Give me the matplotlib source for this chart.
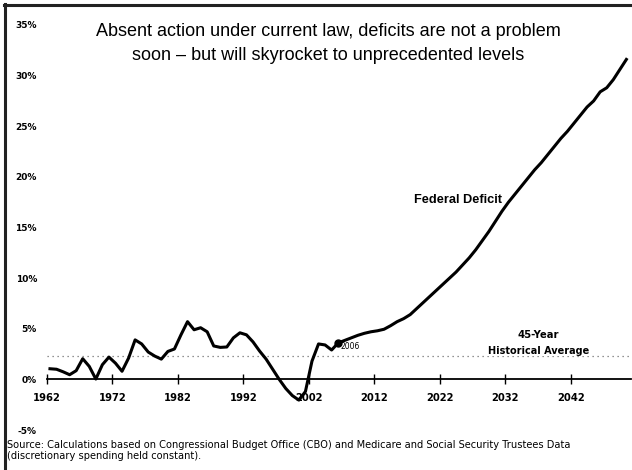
import matplotlib
matplotlib.use("Agg")
import matplotlib.pyplot as plt
from matplotlib.lines import Line2D
import numpy as np

# ---------------- data ----------------
years = list(range(1962, 2051))
deficit = [
    1.05, 1.0, 0.75, 0.46, 0.86, 2.04, 1.28, 0.03, 1.45, 2.2,      # 1962-1971
    1.6, 0.8, 2.1, 3.9, 3.5, 2.7, 2.3, 2.0, 2.76, 3.0,             # 1972-1981
    4.4, 5.7, 4.9, 5.1, 4.7, 3.3, 3.16, 3.2, 4.1, 4.6,             # 1982-1991
    4.4, 3.7, 2.8, 2.0, 1.0, 0.0, -0.9, -1.6, -2.05, -1.2,         # 1992-2001
    1.8, 3.5, 3.4, 2.9, 3.6, 3.85, 4.1, 4.35, 4.55, 4.7,           # 2002-2011
    4.8, 4.95, 5.3, 5.7, 6.0, 6.4, 7.0, 7.6, 8.2, 8.8,             # 2012-2021
    9.4, 10.0, 10.6, 11.3, 12.0, 12.8, 13.7, 14.6, 15.6, 16.6,     # 2022-2031
    17.5, 18.3, 19.1, 19.9, 20.7, 21.4, 22.2, 23.0, 23.8, 24.5,    # 2032-2041
    25.3, 26.1, 26.9, 27.5, 28.4, 28.8, 29.6, 30.6, 31.6,          # 2042-2050
]
historical_average = 2.3
marker_year = 2006
x_tick_years = [1962, 1972, 1982, 1992, 2002, 2012, 2022, 2032, 2042]
y_ticks = [-5, 0, 5, 10, 15, 20, 25, 30, 35]
y_tick_labels = ["-5%", "0%", "5%", "10%", "15%", "20%", "25%", "30%", "35%"]

title_lines = ["Absent action under current law, deficits are not a problem",
               "soon \u2013 but will skyrocket to unprecedented levels"]
series_label = "Federal Deficit"
avg_label = ["45-Year", "Historical Average"]
source_lines = ["Source: Calculations based on Congressional Budget Office (CBO) and Medicare and Social Security Trustees Data",
                "(discretionary spending held constant)."]

# ---------------- figure ----------------
W, H = 632, 470
fig = plt.figure(figsize=(W / 100, H / 100), dpi=100)
fig.patch.set_facecolor("white")

def fx(x):
    return x / W

def fy(y):
    return 1 - y / H

ax_left, ax_right, ax_top, ax_bottom = 46.7, 631, 25, 430
ax = fig.add_axes([fx(ax_left), fy(ax_bottom), (ax_right - ax_left) / W, (ax_bottom - ax_top) / H])
ax.set_facecolor("none")
ax.set_xlim(1962, 1962 + (ax_right - ax_left) / 6.55)
ax.set_ylim(-5, 35)

xs = np.array(years) + 0.5  # data drawn at the middle of each year
ax.plot(xs, deficit, color="black", lw=2.2, solid_joinstyle="round", zorder=4)
mi = years.index(marker_year)
ax.plot([xs[mi]], [deficit[mi]], "o", color="black", ms=5, zorder=5)
ax.text(xs[mi] + 0.4, deficit[mi] - 0.35, str(marker_year), fontsize=5.5,
        family="DejaVu Sans", va="center", ha="left", zorder=6)

ax.axhline(historical_average, color="#707070", lw=0.9, ls=(0, (1, 3)), zorder=2)

for s in ["top", "right", "left"]:
    ax.spines[s].set_visible(False)
ax.spines["bottom"].set_position(("data", 0))
ax.spines["bottom"].set_linewidth(1.3)
ax.spines["bottom"].set_zorder(3)

ax.set_xticks(x_tick_years)
ax.set_xticklabels([str(y) for y in x_tick_years], fontsize=7.2, fontweight="bold",
                   family="DejaVu Sans")
ax.tick_params(axis="x", direction="inout", length=7, width=1, pad=6)
ax.set_yticks(y_ticks)
ax.set_yticklabels(y_tick_labels, fontsize=6.5, fontweight="bold", family="DejaVu Sans")
ax.tick_params(axis="y", length=0, pad=7)

# annotations
fig.text(fx(458.5), fy(200), series_label, fontsize=9.2, fontweight="bold",
         family="Liberation Sans", ha="center", va="center")
fig.text(fx(538.5), fy(334.5), avg_label[0], fontsize=7.2, fontweight="bold",
         family="DejaVu Sans", ha="center", va="center")
fig.text(fx(538.5), fy(350.5), avg_label[1], fontsize=7.0, fontweight="bold",
         family="DejaVu Sans", ha="center", va="center",
         bbox=dict(facecolor="white", edgecolor="none", pad=0.5), zorder=5)

# title
fig.text(fx(328), fy(31), title_lines[0], fontsize=13, family="Liberation Sans",
         ha="center", va="center")
fig.text(fx(328), fy(55), title_lines[1], fontsize=13, family="Liberation Sans",
         ha="center", va="center")

# source
fig.text(fx(7), fy(444.5), source_lines[0], fontsize=7.1, family="DejaVu Sans",
         ha="left", va="center")
fig.text(fx(7), fy(456), source_lines[1], fontsize=7.1, family="DejaVu Sans",
         ha="left", va="center")

# frame (scan border)
fig.add_artist(Line2D([fx(4), fx(632)], [fy(5), fy(5)], color="#222222", lw=2.2))
fig.add_artist(Line2D([fx(5), fx(5)], [fy(4), fy(470)], color="#222222", lw=2.2))

fig.savefig("out.png", dpi=100, facecolor="white")
